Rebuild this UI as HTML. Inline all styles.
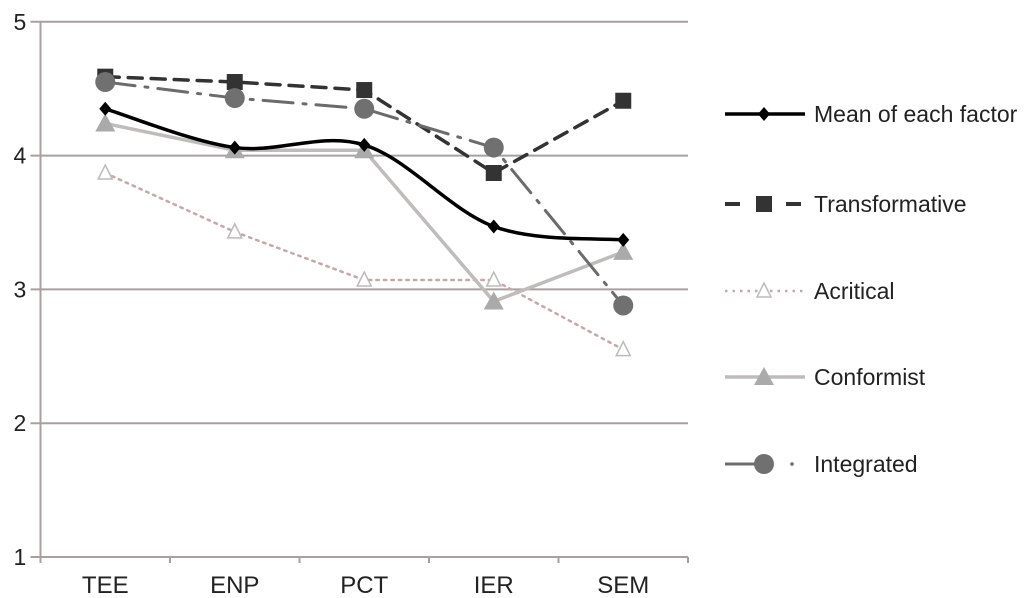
<!DOCTYPE html>
<html><head><meta charset="utf-8"><style>
body{margin:0;background:#fff}
svg{display:block;font-family:"Liberation Sans",sans-serif}
</style></head><body>
<svg id="chart" width="1035" height="598" viewBox="0 0 1035 598">
<g id="grid"></g><g id="series"></g><g id="legend"></g>
</svg>
<script>
const categories = ["TEE","ENP","PCT","IER","SEM"];
const meanValues = [4.35,4.06,4.08,3.47,3.37];
const transformativeValues = [4.59,4.55,4.49,3.87,4.41];
const acriticalValues = [3.87,3.43,3.07,3.07,2.55];
const conformistValues = [4.24,4.04,4.04,2.91,3.28];
const integratedValues = [4.55,4.43,4.35,4.06,2.88];
const yTicks = [1,2,3,4,5];
const seriesNames = ["Mean of each factor","Transformative","Acritical","Conformist","Integrated"];

const NS="http://www.w3.org/2000/svg";
const L=40.5,R=688,T=21.8,B=557;
const bw=(R-L)/categories.length;
const x=i=>L+bw*(i+0.5);
const y=v=>B-(v-1)/4*(B-T);
function mk(t,a,p){const e=document.createElementNS(NS,t);for(const k in a)e.setAttribute(k,a[k]);p.appendChild(e);return e;}
const grid=document.getElementById('grid'),ser=document.getElementById('series'),leg=document.getElementById('legend');

yTicks.forEach(v=>{
  const g=mk('line',{x1:L-10,x2:R,y1:y(v),y2:y(v),stroke:'#a8a0a0','stroke-width':2},grid);
  
  
  const t=mk('text',{x:L-27,y:y(v)+8,'font-size':23,fill:'#222'},grid);
  t.textContent=v;
  
  
});
mk('line',{x1:L,x2:L,y1:T,y2:B+6,stroke:'#a8a0a0','stroke-width':2},grid);
categories.forEach((c,i)=>{
  mk('line',{x1:L+bw*(i+1),x2:L+bw*(i+1),y1:B,y2:B+6,stroke:'#a8a0a0','stroke-width':2},grid);
  const t=mk('text',{x:x(i),y:B+36,'font-size':24,fill:'#222','text-anchor':'middle'},grid);
  t.textContent=c;
  
  
});

function straight(vals){return vals.map((v,i)=>(i?'L':'M')+x(i)+' '+y(v)).join(' ');}
function smooth(vals){
  const p=vals.map((v,i)=>[x(i),y(v)]);let d='M'+p[0][0]+' '+p[0][1];
  for(let i=0;i<p.length-1;i++){
    const p0=p[Math.max(i-1,0)],p1=p[i],p2=p[i+1],p3=p[Math.min(i+2,p.length-1)];
    const c1=[p1[0]+(p2[0]-p0[0])/6,p1[1]+(p2[1]-p0[1])/6],c2=[p2[0]-(p3[0]-p1[0])/6,p2[1]-(p3[1]-p1[1])/6];
    d+=` C${c1[0]} ${c1[1]} ${c2[0]} ${c2[1]} ${p2[0]} ${p2[1]}`;}
  return d;}
function marker(type,cx,cy,p){
  if(type==='diamond')return mk('path',{d:`M${cx} ${cy-7}L${cx+6} ${cy}L${cx} ${cy+7}L${cx-6} ${cy}Z`,fill:'#000'},p);
  if(type==='square')return mk('rect',{x:cx-8,y:cy-8,width:16,height:16,fill:'#333'},p);
  if(type==='otri')return mk('path',{d:`M${cx} ${cy-8}L${cx+7} ${cy+6}L${cx-7} ${cy+6}Z`,fill:'#fff',stroke:'#bbb','stroke-width':1.5},p);
  if(type==='tri')return mk('path',{d:`M${cx} ${cy-10}L${cx+10} ${cy+8}L${cx-10} ${cy+8}Z`,fill:'#aaa'},p);
  return mk('circle',{cx:cx,cy:cy,r:10,fill:'#707070'},p);
}
const defs=[
 {vals:meanValues,stroke:'#000',w:3.5,dash:'',m:'diamond',smooth:true,name:'mean'},
 {vals:transformativeValues,stroke:'#333',w:3.5,dash:'14 9',m:'square',name:'transformative'},
 {vals:acriticalValues,stroke:'#c4a9a9',w:2.5,dash:'2.5 5',m:'otri',name:'acritical'},
 {vals:conformistValues,stroke:'#c0bcbc',w:3.5,dash:'',m:'tri',name:'conformist'},
 {vals:integratedValues,stroke:'#6b6b6b',w:3,dash:'30 10 3 10',m:'circle',name:'integrated'}
];
const order=[2,3,0,1,4];
order.forEach(k=>{const s=defs[k];
  const g=mk('g',{},ser);
  
  
  const a={d:s.smooth?smooth(s.vals):straight(s.vals),fill:'none',stroke:s.stroke,'stroke-width':s.w,'stroke-linecap':'round'};
  if(s.dash)a['stroke-dasharray']=s.dash;
  mk('path',a,g);
  s.vals.forEach((v,i)=>{const m=marker(s.m,x(i),y(v),g);
    
    });
});
const ly=[114,204,291,377,464];
defs.forEach((s,k)=>{
  const g=mk('g',{},leg);
  
  
  if(k===1){
    mk('line',{x1:725,x2:740,y1:ly[k],y2:ly[k],stroke:s.stroke,'stroke-width':4},g);
    mk('line',{x1:786,x2:801,y1:ly[k],y2:ly[k],stroke:s.stroke,'stroke-width':4},g);
  } else if(k===4){
    mk('line',{x1:725,x2:764,y1:ly[k],y2:ly[k],stroke:s.stroke,'stroke-width':3},g);
    mk('circle',{cx:792,cy:ly[k],r:1.8,fill:s.stroke},g);
  } else {
    const a={x1:725,x2:805,y1:ly[k],y2:ly[k],stroke:s.stroke,'stroke-width':s.w};
    if(k===2)a['stroke-dasharray']='2.5 5';
    mk('line',a,g);
  }
  marker(s.m,764,ly[k],g);
  const t=mk('text',{x:814,y:ly[k]+8,'font-size':23,fill:'#222'},g);
  t.textContent=seriesNames[k];
});
</script>
</body></html>
